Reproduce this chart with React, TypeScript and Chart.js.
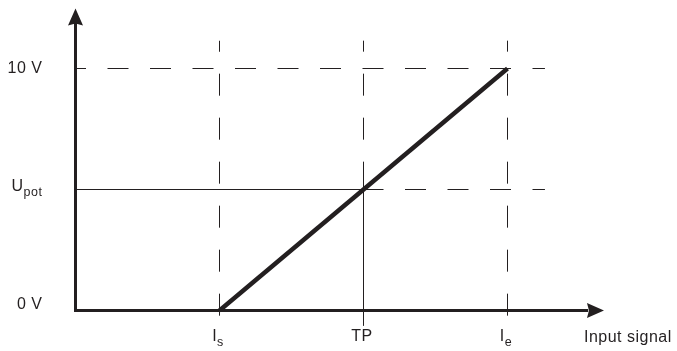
import React, { useEffect, useRef } from "react";
import { Chart, registerables } from "chart.js";

Chart.register(...registerables);

// ---- data ----
const xTickValues = [1, 2, 3];
const xTickMain = ["I", "TP", "I"];
const xTickSub = ["s", "", "e"];
const yTickValues = [0, 5, 10];
const yTickMain = ["0 V", "U", "10 V"];
const yTickSub = ["", "pot", ""];
const xAxisTitle = "Input signal";

const responseX = [1, 3];
const responseY = [0, 10];

const guideX = [1, 2, 3];
const guideYRange = [11.15, -0.62];
const levelY = [10, 5];
const levelXRange = [0, 3.26];
const upotSolidX = [0, 2];
const tpSolidY = [6.1, -0.62];

const xAxisRange = [0, 3.55];
const yAxisRange = [0, 12];
const xArrowTip = 3.67;
const yArrowTip = 12.48;

// ---- styles ----
const INK = "#231f20";
const FONT = '"Liberation Sans", Arial, Helvetica, sans-serif';
const yLabelDy = [-2, 1.5, 4.5];

const seg = (x0: number, y0: number, x1: number, y1: number) => [
  { x: x0, y: y0 },
  { x: x1, y: y1 },
];

export default function App() {
  const ref = useRef<HTMLCanvasElement | null>(null);

  useEffect(() => {
    if (!ref.current) return;
    const dashedV = guideX.map((gx) => ({
      data: seg(gx, guideYRange[0], gx, guideYRange[1]),
      borderColor: INK,
      borderWidth: 1,
      borderDash: [22, 22],
      borderDashOffset: 11,
    }));
    const dashedH = levelY.map((ly) => ({
      data: seg(levelXRange[0], ly, levelXRange[1], ly),
      borderColor: INK,
      borderWidth: 1,
      borderDash: [21, 21.5],
      borderDashOffset: 10.5,
    }));
    const datasets: any[] = [
      ...dashedV,
      ...dashedH,
      {
        data: seg(upotSolidX[0], levelY[1], upotSolidX[1], levelY[1]),
        borderColor: INK,
        borderWidth: 1,
      },
      {
        data: seg(guideX[1], tpSolidY[0], guideX[1], tpSolidY[1]),
        borderColor: INK,
        borderWidth: 1,
      },
      {
        data: seg(0, yAxisRange[0], 0, yAxisRange[1]),
        borderColor: INK,
        borderWidth: 3,
        borderCapStyle: "square",
      },
      {
        data: seg(xAxisRange[0], 0, xAxisRange[1], 0),
        borderColor: INK,
        borderWidth: 3,
        borderCapStyle: "square",
      },
      {
        data: responseX.map((x, i) => ({ x, y: responseY[i] })),
        borderColor: INK,
        borderWidth: 4.5,
        borderCapStyle: "butt",
      },
    ].map((d) => ({
      ...d,
      showLine: true,
      pointRadius: 0,
      fill: false,
      clip: false,
      tension: 0,
    }));

    const decor = {
      id: "decor",
      afterDatasetsDraw(chart: any) {
        const ctx = chart.ctx as CanvasRenderingContext2D;
        const xs = chart.scales.x;
        const ys = chart.scales.y;
        ctx.save();
        ctx.fillStyle = INK;
        // y arrow
        const ax = xs.getPixelForValue(0);
        const ay = ys.getPixelForValue(yArrowTip);
        ctx.beginPath();
        ctx.moveTo(ax, ay);
        ctx.lineTo(ax + 7.5, ay + 17);
        ctx.lineTo(ax, ay + 15);
        ctx.lineTo(ax - 7.5, ay + 17);
        ctx.closePath();
        ctx.fill();
        // x arrow
        const bx = xs.getPixelForValue(xArrowTip);
        const by = ys.getPixelForValue(0);
        ctx.beginPath();
        ctx.moveTo(bx, by);
        ctx.lineTo(bx - 17, by - 7.5);
        ctx.lineTo(bx - 15, by);
        ctx.lineTo(bx - 17, by + 7.5);
        ctx.closePath();
        ctx.fill();

        (ctx as any).letterSpacing = "0.5px";
        ctx.textBaseline = "alphabetic";
        // y labels
        yTickValues.forEach((v, i) => {
          const py = ys.getPixelForValue(v) + yLabelDy[i];
          const main = yTickMain[i];
          const sub = yTickSub[i];
          const right = 42.5;
          ctx.font = `12.5px ${FONT}`;
          const sw = sub ? ctx.measureText(sub).width : 0;
          ctx.textAlign = "left";
          if (sub) ctx.fillText(sub, right - sw, py + 5);
          ctx.font = `16px ${FONT}`;
          const mw = ctx.measureText(main).width;
          ctx.fillText(main, right - sw - mw, py);
        });
        // x labels
        const base = 341;
        xTickValues.forEach((v, i) => {
          const px = xs.getPixelForValue(v) - 1.5;
          const main = xTickMain[i];
          const sub = xTickSub[i];
          ctx.font = `16px ${FONT}`;
          const mw = ctx.measureText(main).width;
          ctx.font = `12.5px ${FONT}`;
          const sw = sub ? ctx.measureText(sub).width : 0;
          const left = px - (mw + sw) / 2;
          ctx.textAlign = "left";
          ctx.font = `16px ${FONT}`;
          ctx.fillText(main, left, base);
          if (sub) {
            ctx.font = `12.5px ${FONT}`;
            ctx.fillText(sub, left + mw, base + 5);
          }
        });
        // axis title
        ctx.font = `16px ${FONT}`;
        ctx.textAlign = "left";
        ctx.fillText(xAxisTitle, bx - 20, base + 1);
        ctx.restore();
      },
    };

    const chart = new Chart(ref.current, {
      type: "line",
      data: { datasets },
      options: {
        animation: false,
        responsive: true,
        maintainAspectRatio: false,
        parsing: false as any,
        layout: { padding: { left: 75.5, right: 68.7, top: 8, bottom: 23.56 } },
        plugins: { legend: { display: false }, tooltip: { enabled: false } },
        events: [],
        scales: {
          x: { type: "linear", min: 0, max: 3.7, display: false },
          y: { type: "linear", min: -0.7, max: 12.5, display: false },
        },
      },
      plugins: [decor],
    });
    return () => chart.destroy();
  }, []);

  return (
    <div
      style={{
        position: "absolute",
        left: 0,
        top: 0,
        width: 677,
        height: 351,
        background: "#fff",
      }}
    >
      <canvas ref={ref} />
    </div>
  );
}
